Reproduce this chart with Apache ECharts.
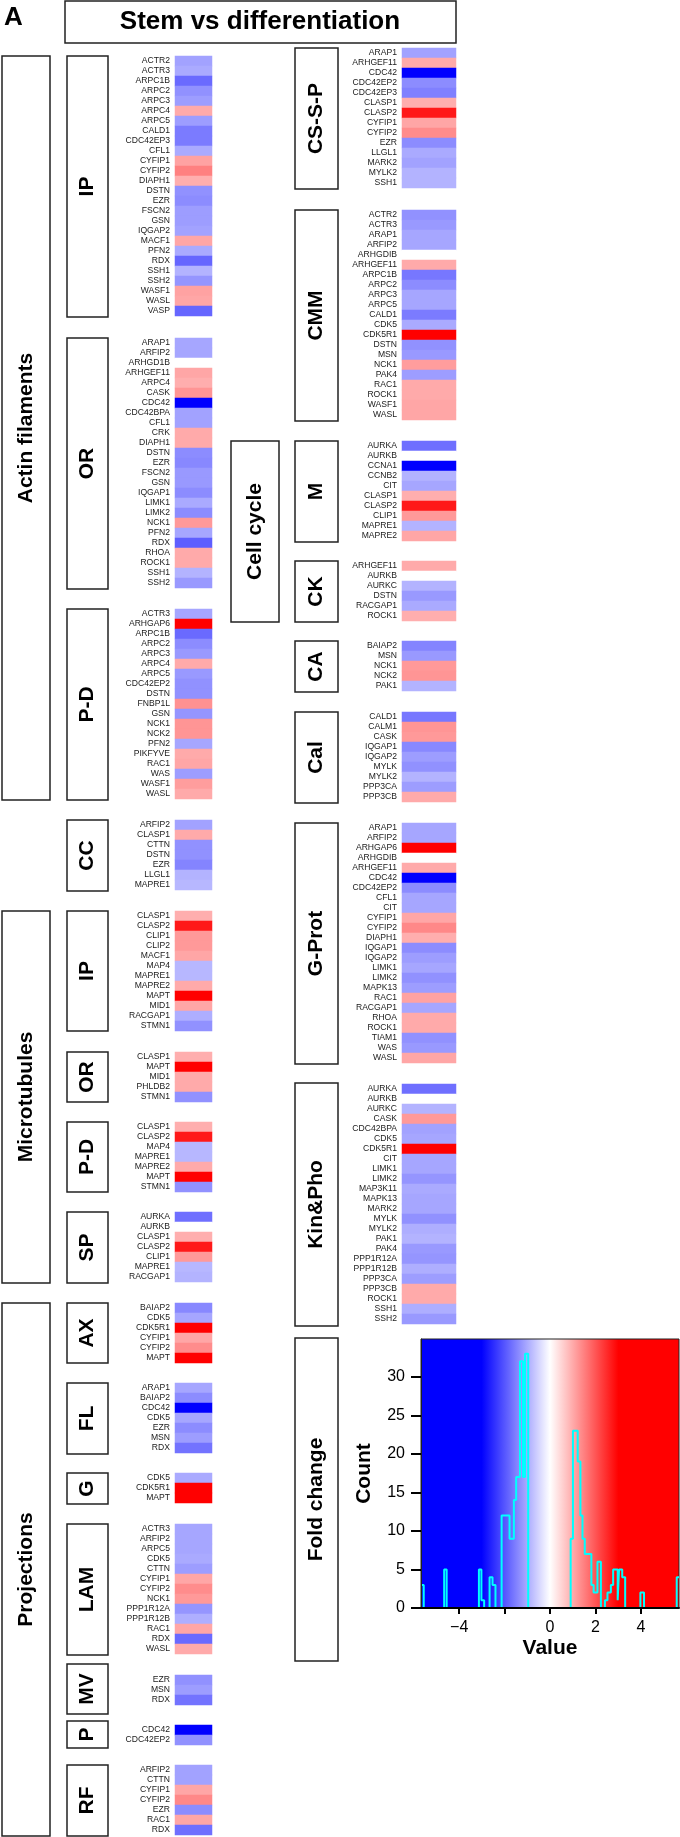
<!DOCTYPE html>
<html><head><meta charset="utf-8">
<script src="https://cdn.jsdelivr.net/npm/echarts@6/dist/echarts.min.js"></script>
<style>html,body{margin:0;padding:0;background:#fff}#c{width:680px;height:1837px}</style>
</head><body><div id="c"></div><script>
// ---------------- DATA ----------------
// Actin filaments
const afIpGenes = ['ACTR2','ACTR3','ARPC1B','ARPC2','ARPC3','ARPC4','ARPC5','CALD1','CDC42EP3','CFL1','CYFIP1','CYFIP2','DIAPH1','DSTN','EZR','FSCN2','GSN','IQGAP2','MACF1','PFN2','RDX','SSH1','SSH2','WASF1','WASL','VASP'];
const afIpValues = [-1.1,-1.0,-1.75,-1.3,-1.15,1.0,-1.15,-1.55,-1.55,-1.0,1.1,1.5,0.95,-1.3,-1.35,-1.15,-1.15,-1.1,1.05,-1.0,-1.8,-0.9,-1.25,1.1,1.05,-1.8];
const afOrGenes = ['ARAP1','ARFIP2','ARHGD1B','ARHGEF11','ARPC4','CASK','CDC42','CDC42BPA','CFL1','CRK','DIAPH1','DSTN','EZR','FSCN2','GSN','IQGAP1','LIMK1','LIMK2','NCK1','PFN2','RDX','RHOA','ROCK1','SSH1','SSH2'];
const afOrValues = [-1.05,-1.05,0,1.05,0.95,1.25,-4.6,-1.1,-1.1,1.0,1.0,-1.35,-1.4,-1.2,-1.2,-1.35,-1.0,-1.35,1.2,-1.05,-1.9,1.0,1.0,-0.9,-1.2];
const afPdGenes = ['ACTR3','ARHGAP6','ARPC1B','ARPC2','ARPC3','ARPC4','ARPC5','CDC42EP2','DSTN','FNBP1L','GSN','NCK1','NCK2','PFN2','PIKFYVE','RAC1','WAS','WASF1','WASL'];
const afPdValues = [-1.05,3.1,-1.75,-1.35,-1.2,1.0,-1.2,-1.3,-1.3,1.3,-1.25,1.25,1.25,-1.05,1.0,1.05,-1.15,1.15,1.0];
const ccGenes = ['ARFIP2','CLASP1','CTTN','DSTN','EZR','LLGL1','MAPRE1'];
const ccValues = [-1.1,1.0,-1.3,-1.3,-1.45,-0.9,-0.85];
// Microtubules
const mtIpGenes = ['CLASP1','CLASP2','CLIP1','CLIP2','MACF1','MAP4','MAPRE1','MAPRE2','MAPT','MID1','RACGAP1','STMN1'];
const mtIpValues = [0.95,2.7,1.2,1.2,1.05,-0.85,-0.85,1.0,3.2,1.05,-0.95,-1.3];
const mtOrGenes = ['CLASP1','MAPT','MID1','PHLDB2','STMN1'];
const mtOrValues = [0.95,3.2,1.0,1.0,-1.3];
const mtPdGenes = ['CLASP1','CLASP2','MAP4','MAPRE1','MAPRE2','MAPT','STMN1'];
const mtPdValues = [0.95,2.7,-0.85,-0.85,1.0,3.2,-1.3];
const mtSpGenes = ['AURKA','AURKB','CLASP1','CLASP2','CLIP1','MAPRE1','RACGAP1'];
const mtSpValues = [-1.7,0,0.95,2.7,1.2,-0.85,-0.9];
// Projections
const axGenes = ['BAIAP2','CDK5','CDK5R1','CYFIP1','CYFIP2','MAPT'];
const axValues = [-1.4,-1.05,3.1,1.05,1.35,3.2];
const flGenes = ['ARAP1','BAIAP2','CDC42','CDK5','EZR','MSN','RDX'];
const flValues = [-1.05,-1.35,-4.6,-1.05,-1.35,-1.15,-1.65];
const gGenes = ['CDK5','CDK5R1','MAPT'];
const gValues = [-1.0,3.1,3.2];
const lamGenes = ['ACTR3','ARFIP2','ARPC5','CDK5','CTTN','CYFIP1','CYFIP2','NCK1','PPP1R12A','PPP1R12B','RAC1','RDX','WASL'];
const lamValues = [-1.05,-1.05,-1.05,-1.0,-1.15,1.05,1.35,1.2,-1.25,-0.95,1.05,-1.75,1.0];
const mvGenes = ['EZR','MSN','RDX'];
const mvValues = [-1.3,-1.15,-1.65];
const pGenes = ['CDC42','CDC42EP2'];
const pValues = [-4.6,-1.3];
const rfGenes = ['ARFIP2','CTTN','CYFIP1','CYFIP2','EZR','RAC1','RDX'];
const rfValues = [-1.1,-1.1,1.05,1.4,-1.35,1.05,-1.7];
// Right column
const cssGenes = ['ARAP1','ARHGEF11','CDC42','CDC42EP2','CDC42EP3','CLASP1','CLASP2','CYFIP1','CYFIP2','EZR','LLGL1','MARK2','MYLK2','SSH1'];
const cssValues = [-1.1,1.0,-4.6,-1.35,-1.5,0.95,2.7,1.05,1.35,-1.35,-1.0,-1.1,-0.9,-0.9];
const cmmGenes = ['ACTR2','ACTR3','ARAP1','ARFIP2','ARHGDIB','ARHGEF11','ARPC1B','ARPC2','ARPC3','ARPC5','CALD1','CDK5','CDK5R1','DSTN','MSN','NCK1','PAK4','RAC1','ROCK1','WASF1','WASL'];
const cmmValues = [-1.3,-1.2,-1.05,-1.05,0,1.0,-1.6,-1.35,-1.05,-1.05,-1.55,-1.0,3.1,-1.3,-1.2,1.15,-1.15,1.0,1.0,1.05,1.05];
const mGenes = ['AURKA','AURKB','CCNA1','CCNB2','CIT','CLASP1','CLASP2','CLIP1','MAPRE1','MAPRE2'];
const mValues = [-1.7,0,-5.6,-0.9,-1.05,0.95,2.7,1.2,-0.9,1.05];
const ckGenes = ['ARHGEF11','AURKB','AURKC','DSTN','RACGAP1','ROCK1'];
const ckValues = [1.0,0,-0.9,-1.2,-1.0,0.95];
const caGenes = ['BAIAP2','MSN','NCK1','NCK2','PAK1'];
const caValues = [-1.45,-1.2,1.2,1.25,-0.9];
const calGenes = ['CALD1','CALM1','CASK','IQGAP1','IQGAP2','MYLK','MYLK2','PPP3CA','PPP3CB'];
const calValues = [-1.6,1.25,1.2,-1.4,-1.15,-1.3,-0.9,-1.15,1.0];
const gpGenes = ['ARAP1','ARFIP2','ARHGAP6','ARHGDIB','ARHGEF11','CDC42','CDC42EP2','CFL1','CIT','CYFIP1','CYFIP2','DIAPH1','IQGAP1','IQGAP2','LIMK1','LIMK2','MAPK13','RAC1','RACGAP1','RHOA','ROCK1','TIAM1','WAS','WASL'];
const gpValues = [-1.05,-1.05,3.1,0,1.0,-4.6,-1.35,-1.05,-1.05,1.05,1.4,0.95,-1.35,-1.15,-1.05,-1.3,-1.15,1.1,-1.05,1.0,1.0,-1.3,-1.2,1.05];
const kpGenes = ['AURKA','AURKB','AURKC','CASK','CDC42BPA','CDK5','CDK5R1','CIT','LIMK1','LIMK2','MAP3K11','MAPK13','MARK2','MYLK','MYLK2','PAK1','PAK4','PPP1R12A','PPP1R12B','PPP3CA','PPP3CB','ROCK1','SSH1','SSH2'];
const kpValues = [-1.7,0,-0.9,1.2,-1.1,-1.05,3.1,-1.05,-1.05,-1.25,-1.0,-1.05,-1.05,-1.3,-0.95,-0.9,-1.2,-1.25,-0.95,-1.15,1.0,1.0,-0.95,-1.2];
// Fold-change histogram (bin left edge -> count)
const histEdges  = [-5.68,-5.56,-4.66,-4.55,-3.13,-3.02,-2.90,-2.66,-2.53,-2.40,-2.13,-1.78,-1.59,-1.49,-1.32,-1.19,-1.10,-0.96,0.91,1.01,1.22,1.34,1.43,1.53,1.82,1.92,2.09,2.24,2.42,2.53,2.68,2.78,2.98,3.04,3.18,3.31,3.98,4.14,5.58,5.68];
const histCounts = [3,0,5,0,5,1,0,4,3,0,12,9,14,17,32,17,33,0,9,23,19,12,9,7,3,2,6,0,1,2,3,5,1,5,4,0,2,0,4,4];
const xTickValues = [-4,-2,0,2,4];
const xLabelValues = [-4,0,2,4];
const yTickValues = [0,5,10,15,20,25,30];

// ---------------- LAYOUT ----------------
const COL = {L:{x:175,w:37}, R:{x:402,w:54}};
const ROW_H = 10;
const blocks = [
  ['L',56,afIpGenes,afIpValues],['L',338,afOrGenes,afOrValues],['L',609,afPdGenes,afPdValues],['L',820,ccGenes,ccValues],
  ['L',911,mtIpGenes,mtIpValues],['L',1052,mtOrGenes,mtOrValues],['L',1122,mtPdGenes,mtPdValues],['L',1212,mtSpGenes,mtSpValues],
  ['L',1303,axGenes,axValues],['L',1383,flGenes,flValues],['L',1473,gGenes,gValues],['L',1524,lamGenes,lamValues],
  ['L',1675,mvGenes,mvValues],['L',1725,pGenes,pValues],['L',1765,rfGenes,rfValues],
  ['R',48,cssGenes,cssValues],['R',210,cmmGenes,cmmValues],['R',441,mGenes,mValues],['R',561,ckGenes,ckValues],
  ['R',641,caGenes,caValues],['R',712,calGenes,calValues],['R',823,gpGenes,gpValues],['R',1084,kpGenes,kpValues]
];
// label boxes: x, y, w, h, text
const boxes = [
  [2,56,48,744,'Actin filaments'],[2,911,48,372,'Microtubules'],[2,1303,48,533,'Projections'],
  [67,56,41,261,'IP'],[67,338,41,251,'OR'],[67,609,41,191,'P-D'],[67,820,41,71,'CC'],
  [67,911,41,120,'IP'],[67,1052,41,50,'OR'],[67,1122,41,70,'P-D'],[67,1212,41,71,'SP'],
  [67,1303,41,60,'AX'],[67,1383,41,71,'FL'],[67,1473,41,31,'G'],[67,1524,41,131,'LAM'],
  [67,1664,41,50,'MV'],[67,1721,41,27,'P'],[67,1765,41,71,'RF'],
  [231,441,48,181,'Cell cycle'],
  [295,48,43,141,'CS-S-P'],[295,210,43,211,'CMM'],[295,441,43,101,'M'],[295,561,43,61,'CK'],
  [295,641,43,51,'CA'],[295,712,43,91,'Cal'],[295,823,43,241,'G-Prot'],[295,1083,43,243,'Kin&Pho'],
  [295,1338,43,323,'Fold change']
];

const FONT = '"Liberation Sans", Arial, Helvetica, sans-serif';
const grids = [], xAxes = [], yAxes = [], series = [];
blocks.forEach((b, i) => {
  const c = COL[b[0]];
  grids.push({left:c.x, top:b[1], width:c.w, height:b[2].length*ROW_H, outerBoundsMode:'none', containLabel:false});
  xAxes.push({type:'category', gridIndex:i, data:[''], show:false});
  yAxes.push({type:'category', gridIndex:i, data:b[2], inverse:true,
    axisLine:{show:false}, axisTick:{show:false}, splitLine:{show:false},
    axisLabel:{interval:0, fontSize:8.6, fontFamily:FONT, color:'#1a1a1a', margin:5}});
  series.push({type:'heatmap', xAxisIndex:i, yAxisIndex:i, data:b[3].map((v,j)=>[0,j,v]),
    itemStyle:{borderWidth:0}, emphasis:{disabled:true}, silent:true});
});
const heatIdx = series.map((s,i)=>i);

// histogram
const hg = grids.length;
const xMin = -5.68, xMax = 5.68, yMax = 34.9;
const pos = v => (v - xMin) / (xMax - xMin);
grids.push({left:421, top:1339, width:258, height:269, show:true, borderColor:'#222', borderWidth:1,
  outerBoundsMode:'none', containLabel:false,
  backgroundColor:{type:'linear', x:0, y:0, x2:1, y2:0, colorStops:[
    {offset:0, color:'#0000ff'},{offset:pos(-3), color:'#0000ff'},{offset:pos(0), color:'#ffffff'},
    {offset:pos(3), color:'#ff0000'},{offset:1, color:'#ff0000'}]}});
xAxes.push({type:'value', gridIndex:hg, min:xMin, max:xMax, z:10,
  name:'Value', nameLocation:'middle', nameGap:30,
  nameTextStyle:{fontSize:21, fontWeight:'bold', fontFamily:FONT, color:'#000'},
  axisLine:{show:true, onZero:false, lineStyle:{color:'#000', width:2}},
  axisTick:{show:true, length:6, lineStyle:{color:'#000', width:2}, customValues:xTickValues},
  axisLabel:{fontSize:16, fontFamily:FONT, color:'#000', margin:12, customValues:xLabelValues,
    formatter:v=>String(v).replace('-', '\u2212')},
  splitLine:{show:false}});
yAxes.push({type:'value', gridIndex:hg, min:0, max:yMax, z:10,
  name:'Count', nameLocation:'middle', nameGap:46,
  nameTextStyle:{fontSize:21, fontWeight:'bold', fontFamily:FONT, color:'#000'},
  axisLine:{show:true, onZero:false, lineStyle:{color:'#222', width:1}},
  axisTick:{show:true, length:10, lineStyle:{color:'#000', width:2}, customValues:yTickValues},
  axisLabel:{fontSize:16, fontFamily:FONT, color:'#000', margin:16, customValues:yTickValues},
  splitLine:{show:false}});
series.push({type:'line', xAxisIndex:hg, yAxisIndex:hg, step:'end', showSymbol:false, silent:true,
  data:histEdges.map((e,i)=>[e, histCounts[i]]),
  lineStyle:{color:'#00ffff', width:2}, z:5});

// decorations
const graphic = [];
graphic.push({type:'text', x:4, y:18, silent:true,
  style:{text:'A', font:'bold 26px '+FONT, fill:'#000', textAlign:'left', align:'left', textVerticalAlign:'middle', verticalAlign:'middle'}});
graphic.push({type:'rect', shape:{x:65, y:1, width:391, height:42}, silent:true,
  style:{fill:'none', stroke:'#222', lineWidth:1.5}});
graphic.push({type:'text', x:260, y:22, silent:true,
  style:{text:'Stem vs differentiation', font:'bold 26px '+FONT, fill:'#000', textAlign:'center', align:'center', textVerticalAlign:'middle', verticalAlign:'middle'}});
boxes.forEach(b => {
  graphic.push({type:'rect', shape:{x:b[0], y:b[1], width:b[2], height:b[3]}, silent:true,
    style:{fill:'none', stroke:'#222', lineWidth:1.5}});
  graphic.push({type:'text', x:b[0]+b[2]/2, y:b[1]+b[3]/2, rotation:Math.PI/2, silent:true,
    style:{text:b[4], font:'bold 21px '+FONT, fill:'#000', textAlign:'center', align:'center', textVerticalAlign:'middle', verticalAlign:'middle'}});
});

const chart = echarts.init(document.getElementById('c'), null, {renderer:'canvas', width:680, height:1837});
chart.setOption({
  animation:false,
  backgroundColor:'#fff',
  grid:grids, xAxis:xAxes, yAxis:yAxes, series:series,
  visualMap:[{type:'continuous', show:false, min:-3, max:3, seriesIndex:heatIdx, dimension:2,
    inRange:{color:['#0000ff','#ffffff','#ff0000']}}],
  graphic:graphic
});
</script></body></html>
